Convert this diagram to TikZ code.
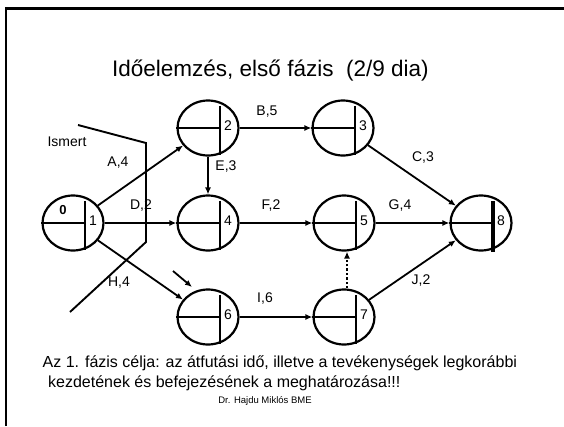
\documentclass[tikz,border=0pt]{standalone}
\usepackage{fontspec}
\setmainfont{Liberation Sans}
\usetikzlibrary{shapes.geometric,arrows.meta}
\tikzset{
  evt/.style={ellipse,draw,line width=2.2pt,minimum width=61pt,minimum height=55pt,inner sep=0pt},
  divline/.style={line width=1.8pt},
  act/.style={line width=1.8pt,-{Latex[length=7pt,width=6pt]}},
  lbl/.style={font=\fontsize{14}{16}\selectfont,inner sep=0pt},
  num/.style={font=\fontsize{14}{16}\selectfont,inner sep=0pt},
}
\newcommand\evnode[4]{%
  \node[evt] (#1) at (#2,#3) {};
  \draw[divline] ([shift={(12,-22)}]#1.center) -- ([shift={(12,27)}]#1.center);
  \draw[divline] (#1.west) -- ([shift={(12,0)}]#1.center);
  \node[num] (#1num) at ([shift={(20,-2)}]#1.center) {#4};}
\begin{document}
\begin{tikzpicture}[x=1pt,y=-1pt]
\useasboundingbox (0,0) rectangle (564,426);
% frame
\coordinate (fa) at (6,426);
\coordinate (fb) at (6,8.5);
\coordinate (fc) at (564,8.5);
\draw[line width=2.8pt] (fa) -- (fb) -- (fc);
% title
\node[font=\fontsize{22.5}{26}\selectfont,anchor=base west,inner sep=0pt] (title) at (112,76) {Időelemzés, első fázis\ \ (2/9 dia)};
% events
\evnode{n1}{73}{223}{1}
\evnode{n2}{208}{128}{2}
\evnode{n3}{343}{128}{3}
\evnode{n4}{208}{223}{4}
\evnode{n5}{344}{223}{5}
\evnode{n6}{208}{317}{6}
\evnode{n7}{344}{317}{7}
\evnode{n8}{481}{223}{8}
\node[num,font=\fontsize{13}{15}\selectfont\bfseries] (zero) at (63,210) {0};
\draw[line width=2.8pt] (n1.west) -- ([shift={(12,0)}]n1.center);
\draw[line width=3.2pt] ([shift={(12,-22)}]n8.center) -- ([shift={(12,29)}]n8.center);
% activities
\draw[act] (n1) -- (n2);
\draw[act] (n1) -- (n4);
\draw[act] (n1) -- (n6);
\draw[act] (n2) -- (n4);
\draw[act] (n2) -- (n3);
\draw[act] (n3) -- (n8);
\draw[act] (n4) -- (n5);
\draw[act] (n5) -- (n8);
\draw[act] (n6) -- (n7);
\draw[act] (n7) -- (n8);
\draw[line width=2.4pt,dotted,-{Latex[length=7pt,width=6pt]}] ([xshift=3pt]n7.north) -- ([xshift=3pt]n5.south);
% activity labels
\node[lbl] (la) at (118,163) {A,4};
\node[lbl] (lb) at (267,112) {B,5};
\node[lbl] (lc) at (423,158) {C,3};
\node[lbl] (ld) at (141,206) {D,2};
\node[lbl] (le) at (226,167) {E,3};
\node[lbl] (lf) at (271,206) {F,2};
\node[lbl] (lg) at (400,206) {G,4};
\node[lbl] (lh) at (119,283) {H,4};
\node[lbl] (li) at (265,299) {I,6};
\node[lbl] (lj) at (421,281) {J,2};
% known boundary
\node[lbl] (ismert) at (67,142) {Ismert};
\coordinate (b1) at (78,125);
\coordinate (b2) at (146,143);
\coordinate (b3) at (146,242);
\coordinate (b4) at (70,312);
\draw[line width=1.9pt] (b1) -- (b2) -- (b3) -- (b4);
% small pointer arrow
\coordinate (p1) at (173,271);
\coordinate (p2) at (192,287);
\draw[act] (p1) -- (p2);
% bottom text
\node[font=\fontsize{16}{19}\selectfont,anchor=base west,inner sep=0pt] (goal1) at (42.5,367) {Az 1. fázis célja: az átfutási idő, illetve a tevékenységek legkorábbi};
\node[font=\fontsize{16}{19}\selectfont,anchor=base west,inner sep=0pt] (goal2) at (48,387) {kezdetének és befejezésének a meghatározása!!!};
\node[font=\fontsize{9.5}{11}\selectfont,anchor=base,inner sep=0pt] (author) at (265,403) {Dr. Hajdu Miklós BME};
\end{tikzpicture}
\end{document}
